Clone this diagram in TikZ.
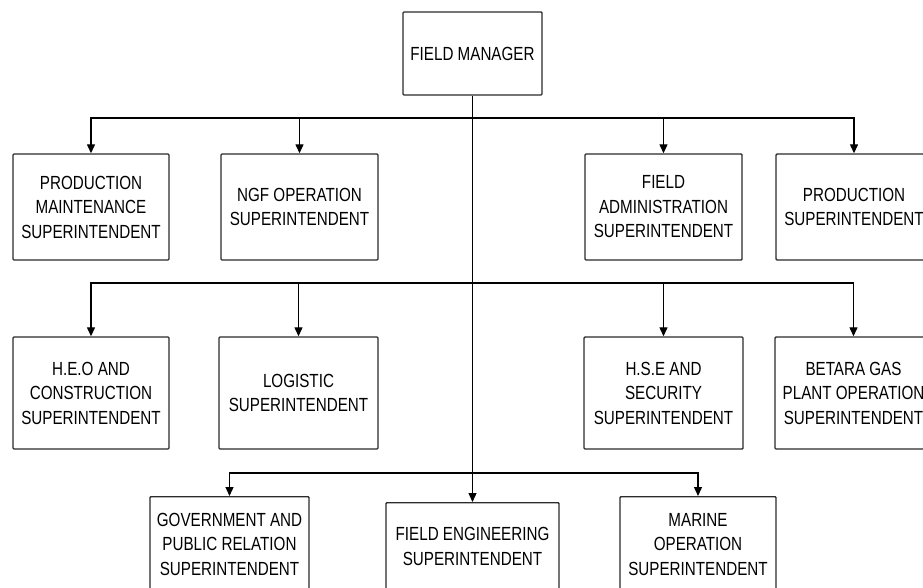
\documentclass[tikz,border=0pt]{standalone}
\usepackage{fontspec}
\setmainfont{Liberation Sans}[FakeStretch=0.8]
\usepackage{xcolor}
\usepackage{tikz}
\usetikzlibrary{arrows.meta,positioning}
\definecolor{cLine}{HTML}{2B2B2B}
\tikzset{
  box/.style={rounded corners=1pt, draw=cLine, line width=1.4pt, fill=white,
              text=black, align=center, font=\fontsize{19}{24.5}\selectfont,
              inner sep=2pt, minimum width=#1, minimum height=106pt},
  box/.default=156pt,
  flow/.style={-{Triangle[length=9pt,width=8pt]}, line width=1.3pt, draw=black},
}

\begin{document}
\begin{tikzpicture}[x=1pt, y=-1pt]
  \useasboundingbox (0,0) rectangle (923,588);
  % top
  \node[box=139pt, minimum height=83pt] (fm) at (472.5,53.5) {FIELD MANAGER};
  % first row
  \node[box] (pm) at (91,207) {PRODUCTION\\MAINTENANCE\\SUPERINTENDENT};
  \node[box=157pt] (ngf) at (299.5,207) {NGF OPERATION\\SUPERINTENDENT};
  \node[box=157pt] (fadm) at (663.5,207) {FIELD\\ADMINISTRATION\\SUPERINTENDENT};
  \node[box] (prod) at (854,207) {PRODUCTION\\SUPERINTENDENT};
  % second row
  \node[box, minimum height=112pt] (heo) at (91,393) {H.E.O AND\\CONSTRUCTION\\SUPERINTENDENT};
  \node[box=159pt, minimum height=112pt] (logi) at (298.5,393) {LOGISTIC\\SUPERINTENDENT};
  \node[box=159pt, minimum height=112pt] (hse) at (663.5,393) {H.S.E AND\\SECURITY\\SUPERINTENDENT};
  \node[box=157pt, minimum height=112pt] (bgp) at (853.5,393) {BETARA GAS\\PLANT OPERATION\\SUPERINTENDENT};
  % third row
  \node[box=159pt, minimum height=95pt, anchor=north] (gpr) at (229.5,496) {GOVERNMENT AND\\PUBLIC RELATION\\SUPERINTENDENT};
  \node[box=173pt, minimum height=88pt, anchor=north] (feng) at (472.5,502) {FIELD ENGINEERING\\SUPERINTENDENT};
  \node[box, minimum height=95pt, anchor=north] (mar) at (698,496) {MARINE\\OPERATION\\SUPERINTENDENT};
  % buses
  \coordinate (bus1) at (472.5,118);
  \coordinate (bus2) at (472.5,283);
  \coordinate (bus3) at (472.5,473);
  \draw[flow] (fm) -- (feng);
  \foreach \n in {pm,ngf,fadm,prod} \draw[flow] (bus1) -| (\n.north);
  \foreach \n in {heo,logi,hse,bgp} \draw[flow] (bus2) -| (\n.north);
  \foreach \n in {gpr,mar} \draw[flow] (bus3) -| (\n.north);
\end{tikzpicture}
\end{document}
